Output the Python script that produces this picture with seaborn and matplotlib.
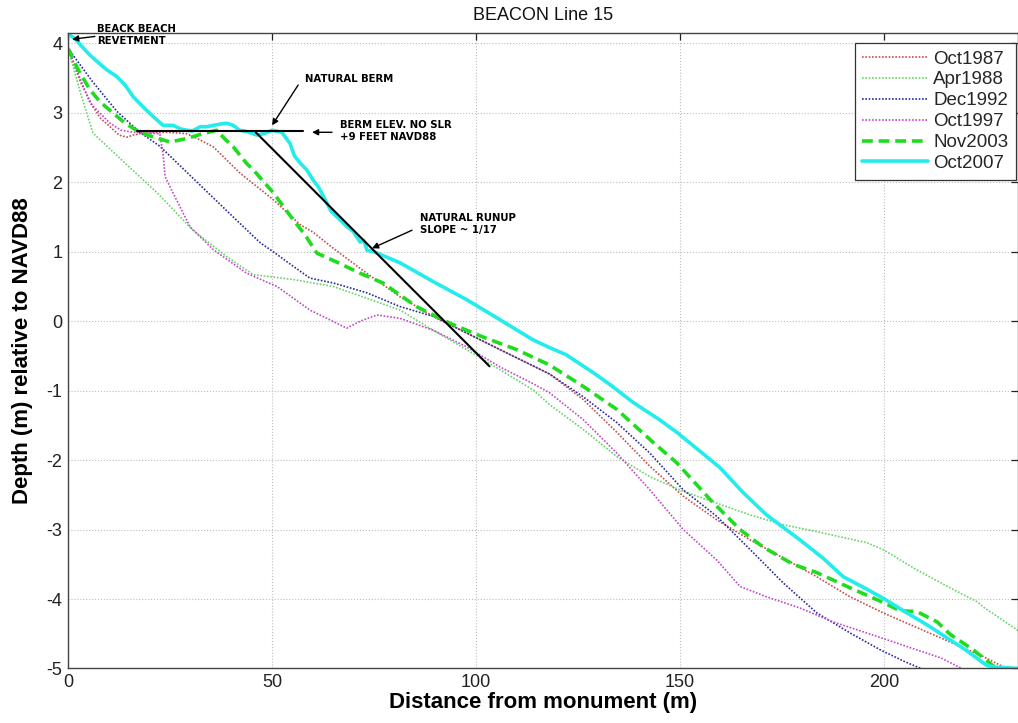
import matplotlib
matplotlib.use("Agg")
import matplotlib.pyplot as plt
import seaborn as sns

# Beach profile surveys, BEACON Line 15: distance from monument (m) and
# elevation relative to NAVD88 (m)
oct1987_x = [0, 3, 6.1, 8, 10.3, 12.5, 14.4, 16, 18.4, 24.3, 29.1, 32, 35.6, 42.2,
             50.3, 56.9, 60.1, 65, 73.2, 81.4, 89.5, 97.7, 105.9, 118, 126.3, 134.5,
             142.6, 150.8, 159, 167.2, 175.3, 183.5, 191.7, 199.8, 208, 216.2, 224, 230]
oct1987_y = [3.93, 3.45, 3.09, 2.92, 2.8, 2.68, 2.65, 2.68, 2.71, 2.72, 2.7, 2.62, 2.51, 2.13,
             1.75, 1.39, 1.28, 1.05, 0.69, 0.35, 0.07, -0.17, -0.41, -0.76, -1.13, -1.6,
             -2.09, -2.52, -2.86, -3.15, -3.41, -3.68, -3.97, -4.2, -4.41, -4.62, -4.82, -5.0]

apr1988_x = [0, 3, 6.1, 15, 22, 30.6, 38.9, 45.4, 55.2, 65, 73.2, 81.4, 89.5, 97.7,
             105.9, 114, 118, 126.3, 134.5, 142.6, 150.8, 159, 167.2, 175.3, 183.5,
             195.8, 199.8, 208, 216.2, 222.8, 224.4, 233]
apr1988_y = [3.93, 3.3, 2.71, 2.22, 1.84, 1.31, 0.93, 0.67, 0.6, 0.5, 0.33, 0.16, -0.13, -0.41,
             -0.7, -0.99, -1.2, -1.56, -1.95, -2.24, -2.45, -2.62, -2.79, -2.93, -3.03,
             -3.19, -3.29, -3.58, -3.84, -4.04, -4.12, -4.46]

dec1992_x = [0, 6, 12, 17.6, 22.5, 30.6, 38.9, 47.1, 50.3, 55.2, 59.3, 65, 73.2, 81.4,
             89.5, 97.7, 105.9, 118, 126.3, 134.5, 142.6, 150.8, 159, 167.2, 175.3,
             183.5, 191.7, 199, 205, 209]
dec1992_y = [3.93, 3.45, 3.02, 2.72, 2.52, 2.06, 1.59, 1.13, 1.0, 0.79, 0.62, 0.55, 0.41, 0.21,
             0.07, -0.17, -0.41, -0.76, -1.09, -1.46, -1.9, -2.43, -2.81, -3.29, -3.77,
             -4.2, -4.49, -4.73, -4.9, -5.0]

oct1997_x = [0, 5.4, 10.3, 13, 16, 22.5, 23.3, 23.8, 25.8, 29.9, 35.6, 43.8, 51.2, 59.3,
             68.3, 71.6, 75.7, 81.4, 89.5, 97.7, 105.9, 114, 118, 126.3, 134.5, 142.6,
             150.8, 159, 164.7, 171.3, 179.4, 187.5, 195.8, 206.4, 214, 219]
oct1997_y = [3.93, 3.14, 2.85, 2.75, 2.72, 2.7, 2.4, 2.08, 1.84, 1.36, 1.03, 0.69, 0.5, 0.16,
             -0.1, 0.0, 0.09, 0.04, -0.13, -0.37, -0.66, -0.9, -1.03, -1.42, -1.9, -2.43,
             -3.0, -3.44, -3.82, -3.97, -4.13, -4.33, -4.49, -4.7, -4.85, -5.0]

nov2003_x = [0, 2.5, 5.4, 8, 11, 14, 17.6, 21, 25, 29.1, 33, 36.4, 38.5, 40.5, 43.8, 45.4,
             50.3, 55.2, 58, 61, 65.9, 71.6, 77.2, 85.4, 93.6, 101.8, 110, 118, 126.3,
             134.5, 143.5, 149.2, 157.4, 164.7, 170.3, 177.7, 183.5, 191.7, 199.8, 203.9,
             208, 213, 216.2, 221.8, 225, 227.5]
nov2003_y = [3.93, 3.62, 3.33, 3.15, 3.0, 2.85, 2.72, 2.65, 2.58, 2.63, 2.7, 2.75, 2.62, 2.51,
             2.27, 2.18, 1.85, 1.46, 1.25, 0.98, 0.85, 0.69, 0.55, 0.21, -0.03, -0.23, -0.41,
             -0.63, -0.94, -1.27, -1.75, -2.04, -2.57, -3.0, -3.25, -3.5, -3.62, -3.84,
             -4.05, -4.17, -4.18, -4.33, -4.51, -4.73, -4.88, -5.0]

oct2007_x = [0.5, 2, 3.5, 5.4, 7.5, 9.5, 12, 14, 16, 18.5, 21, 23.3, 25.8, 27.5, 29, 30.5,
             32.4, 34, 35.6, 37.5, 38.9, 40.5, 42, 44, 46.2, 48, 50, 52.4, 54.4, 55.5, 57,
             58.5, 60.1, 61.5, 63, 64.5, 66.7, 68, 69.9, 71.6, 72.5, 73.3, 75, 81.4, 89.5,
             97.7, 105.9, 114, 118, 122, 128.7, 133, 138.5, 145, 149.2, 156.5, 159.8, 165.5,
             171.2, 179.4, 185, 190, 194.9, 199.8, 205.6, 211.3, 215.4, 219.4, 222, 225,
             227, 233]
oct2007_y = [4.12, 4.05, 3.95, 3.83, 3.72, 3.62, 3.52, 3.4, 3.23, 3.08, 2.94, 2.82, 2.82, 2.77,
             2.75, 2.74, 2.8, 2.8, 2.82, 2.84, 2.85, 2.82, 2.75, 2.73, 2.68, 2.7, 2.75, 2.72,
             2.56, 2.38, 2.27, 2.18, 2.03, 1.92, 1.75, 1.58, 1.46, 1.38, 1.29, 1.14, 1.16,
             1.02, 1.0, 0.84, 0.57, 0.31, 0.02, -0.27, -0.38, -0.48, -0.74, -0.92, -1.17,
             -1.42, -1.6, -1.95, -2.11, -2.47, -2.79, -3.15, -3.41, -3.68, -3.83, -3.99,
             -4.2, -4.4, -4.56, -4.71, -4.82, -4.95, -4.98, -5.0]

# Design berm (+9 ft NAVD88) and natural runup slope (~1/17)
berm_x = [16.8, 57.6]
berm_y = [2.743, 2.743]
runup_x = [46.0, 103.3]
runup_y = [2.72, -0.65]

survey_labels = ["Oct1987", "Apr1988", "Dec1992", "Oct1997", "Nov2003", "Oct2007"]
x_ticks = [0, 50, 100, 150, 200]
y_ticks = [-5, -4, -3, -2, -1, 0, 1, 2, 3, 4]

sns.set_theme(style="white")
plt.rcParams["font.family"] = ["Liberation Sans", "DejaVu Sans"]
plt.rcParams["axes.unicode_minus"] = False

fig = plt.figure(figsize=(10.18, 7.23), dpi=100)
ax = fig.add_axes([0.0668, 0.0754, 0.9332, 0.879])

dot = (0, (1, 1))
series = [
    (oct1987_x, oct1987_y, "#c44f4f", dot, 1.2),
    (apr1988_x, apr1988_y, "#66d466", dot, 1.2),
    (dec1992_x, dec1992_y, "#2b2b9c", dot, 1.2),
    (oct1997_x, oct1997_y, "#c247c8", dot, 1.2),
    (nov2003_x, nov2003_y, "#1fdc1f", (0, (3, 1.6)), 2.6),
    (oct2007_x, oct2007_y, "#22ecec", "-", 2.6),
]
for label, (xs, ys, color, ls, lw) in zip(survey_labels, series):
    sns.lineplot(x=xs, y=ys, ax=ax, color=color, linestyle=ls, linewidth=lw,
                 label=label, sort=False, estimator=None)

sns.lineplot(x=berm_x, y=berm_y, ax=ax, color="black", linewidth=1.5,
             sort=False, estimator=None, legend=False)
sns.lineplot(x=runup_x, y=runup_y, ax=ax, color="black", linewidth=1.5,
             sort=False, estimator=None, legend=False)

ax.set_xlim(0, 232.8)
ax.set_ylim(-5, 4.15)
ax.set_xticks(x_ticks)
ax.set_yticks(y_ticks)
ax.grid(True, linestyle=":", color="#bdbdbd", linewidth=0.8)
ax.tick_params(direction="in", top=True, right=True, length=5, width=0.9,
               labelsize=13, colors="#222222", pad=4)
for sp in ax.spines.values():
    sp.set_color("#444444")
    sp.set_linewidth(1.0)

ax.set_xlabel("Distance from monument (m)", fontsize=16, fontweight="bold",
              labelpad=1, color="black")
ax.set_ylabel("Depth (m) relative to NAVD88", fontsize=16, fontweight="bold",
              labelpad=10, color="black")
ax.set_title("BEACON Line 15", fontsize=13, pad=9, color="#111111")

# Callouts
note_kw = dict(fontsize=7.3, fontweight="bold", family="DejaVu Sans", color="black",
               va="center", ha="left", linespacing=1.15, clip_on=False)
arrow_kw = dict(arrowstyle="-|>", color="black", lw=1.0, mutation_scale=9,
                shrinkA=0, shrinkB=0)

ax.text(7.1, 4.12, "BEACK BEACH\nREVETMENT", **note_kw)
ax.annotate("", xy=(1.0, 4.06), xytext=(6.6, 4.10), arrowprops=arrow_kw,
            annotation_clip=False)

ax.text(58.1, 3.49, "NATURAL BERM", **note_kw)
ax.annotate("", xy=(50.0, 2.82), xytext=(56.4, 3.40), arrowprops=arrow_kw)

ax.text(66.7, 2.74, "BERM ELEV. NO SLR\n+9 FEET NAVD88", **note_kw)
ax.annotate("", xy=(59.8, 2.72), xytext=(64.7, 2.72), arrowprops=arrow_kw)

ax.text(86.3, 1.40, "NATURAL RUNUP\nSLOPE ~ 1/17", **note_kw)
ax.annotate("", xy=(74.5, 1.05), xytext=(84.3, 1.31), arrowprops=arrow_kw)

leg = ax.legend(loc="upper right", bbox_to_anchor=(1016 / 1018, 1 - 43 / 723),
                bbox_transform=fig.transFigure, borderaxespad=0, frameon=True,
                fancybox=False, edgecolor="#333333", fontsize=13.5, labelspacing=0.2,
                handlelength=3.5, handletextpad=0.3, borderpad=0.4)
leg.get_frame().set_linewidth(0.9)
leg.get_frame().set_facecolor("white")
leg.get_frame().set_alpha(1.0)

fig.savefig("out.png", dpi=100)
